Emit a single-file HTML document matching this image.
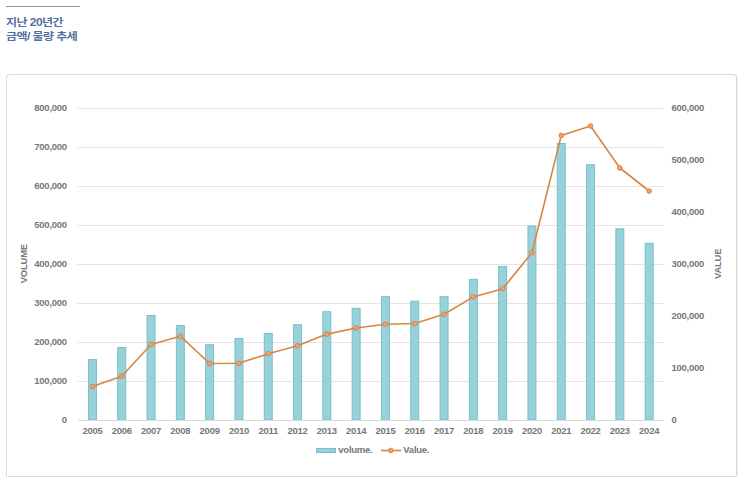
<!DOCTYPE html>
<html><head><meta charset="utf-8"><style>
html,body{margin:0;padding:0;background:#fff;}
body{width:743px;height:482px;position:relative;overflow:hidden;}
.hl{position:absolute;left:6px;top:6px;width:74px;height:1px;background:#8d97ad;}
.ttl{position:absolute;left:6px;top:15.5px;transform:scaleY(0.87);transform-origin:0 0;font-family:"Liberation Sans","Noto Sans CJK KR",sans-serif;font-weight:bold;font-size:12px;line-height:16px;color:#54709f;letter-spacing:-0.55px;}
.card{position:absolute;left:6px;top:74px;width:729px;height:401px;border:1px solid #d9dbe1;border-right-color:#d3d6e3;border-radius:4px 4px 2px 2px;box-shadow:1px 0 0 #eef0f8;background:#fff;}
svg{position:absolute;left:0;top:0;}
.g{stroke:#e4e4e4;stroke-width:1;}
.g2{stroke:#dadada;stroke-width:1;}
.t{font-family:"Liberation Sans",sans-serif;font-weight:bold;font-size:9.5px;letter-spacing:-0.25px;fill:#777777;}
.b{fill:#97d2da;stroke:#78c0c8;stroke-width:1;}
.ln{fill:none;stroke:#d88644;stroke-width:1.6;stroke-linejoin:round;}
.pt{fill:#f5a066;stroke:#d9844a;stroke-width:1;}
</style></head><body>
<div class="hl"></div>
<div class="ttl">지난 20년간<br>금액/ 물량 추세</div>
<div class="card"></div>
<svg width="743" height="482" viewBox="0 0 743 482">
<line x1="77.8" y1="108.5" x2="663.8" y2="108.5" class="g"/>
<line x1="77.8" y1="147.5" x2="663.8" y2="147.5" class="g"/>
<line x1="77.8" y1="186.5" x2="663.8" y2="186.5" class="g"/>
<line x1="77.8" y1="225.5" x2="663.8" y2="225.5" class="g"/>
<line x1="77.8" y1="264.5" x2="663.8" y2="264.5" class="g"/>
<line x1="77.8" y1="303.5" x2="663.8" y2="303.5" class="g"/>
<line x1="77.8" y1="342.5" x2="663.8" y2="342.5" class="g"/>
<line x1="77.8" y1="381.5" x2="663.8" y2="381.5" class="g"/>
<text x="66.9" y="111.0" class="t" text-anchor="end">800,000</text>
<text x="66.9" y="150.0" class="t" text-anchor="end">700,000</text>
<text x="66.9" y="189.0" class="t" text-anchor="end">600,000</text>
<text x="66.9" y="228.0" class="t" text-anchor="end">500,000</text>
<text x="66.9" y="267.0" class="t" text-anchor="end">400,000</text>
<text x="66.9" y="306.0" class="t" text-anchor="end">300,000</text>
<text x="66.9" y="345.0" class="t" text-anchor="end">200,000</text>
<text x="66.9" y="384.0" class="t" text-anchor="end">100,000</text>
<text x="66.9" y="423.0" class="t" text-anchor="end">0</text>
<text x="671.4" y="111.0" class="t">600,000</text>
<text x="671.4" y="163.0" class="t">500,000</text>
<text x="671.4" y="215.0" class="t">400,000</text>
<text x="671.4" y="267.0" class="t">300,000</text>
<text x="671.4" y="319.0" class="t">200,000</text>
<text x="671.4" y="371.0" class="t">100,000</text>
<text x="671.4" y="423.0" class="t">0</text>
<rect x="88.45" y="359.60" width="8.00" height="60.40" class="b"/>
<rect x="117.75" y="347.50" width="8.00" height="72.50" class="b"/>
<rect x="147.05" y="315.50" width="8.00" height="104.50" class="b"/>
<rect x="176.35" y="325.60" width="8.00" height="94.40" class="b"/>
<rect x="205.65" y="344.70" width="8.00" height="75.30" class="b"/>
<rect x="234.95" y="338.60" width="8.00" height="81.40" class="b"/>
<rect x="264.25" y="333.50" width="8.00" height="86.50" class="b"/>
<rect x="293.55" y="324.70" width="8.00" height="95.30" class="b"/>
<rect x="322.85" y="311.70" width="8.00" height="108.30" class="b"/>
<rect x="352.15" y="308.30" width="8.00" height="111.70" class="b"/>
<rect x="381.45" y="296.70" width="8.00" height="123.30" class="b"/>
<rect x="410.75" y="301.20" width="8.00" height="118.80" class="b"/>
<rect x="440.05" y="296.70" width="8.00" height="123.30" class="b"/>
<rect x="469.35" y="279.40" width="8.00" height="140.60" class="b"/>
<rect x="498.65" y="266.40" width="8.00" height="153.60" class="b"/>
<rect x="527.95" y="226.00" width="8.00" height="194.00" class="b"/>
<rect x="557.25" y="143.50" width="8.00" height="276.50" class="b"/>
<rect x="586.55" y="164.70" width="8.00" height="255.30" class="b"/>
<rect x="615.85" y="228.80" width="8.00" height="191.20" class="b"/>
<rect x="645.15" y="243.40" width="8.00" height="176.60" class="b"/>
<line x1="77.8" y1="420.5" x2="663.8" y2="420.5" class="g2"/>
<text x="92.45" y="433.6" class="t" text-anchor="middle">2005</text>
<text x="121.75" y="433.6" class="t" text-anchor="middle">2006</text>
<text x="151.05" y="433.6" class="t" text-anchor="middle">2007</text>
<text x="180.35" y="433.6" class="t" text-anchor="middle">2008</text>
<text x="209.65" y="433.6" class="t" text-anchor="middle">2009</text>
<text x="238.95" y="433.6" class="t" text-anchor="middle">2010</text>
<text x="268.25" y="433.6" class="t" text-anchor="middle">2011</text>
<text x="297.55" y="433.6" class="t" text-anchor="middle">2012</text>
<text x="326.85" y="433.6" class="t" text-anchor="middle">2013</text>
<text x="356.15" y="433.6" class="t" text-anchor="middle">2014</text>
<text x="385.45" y="433.6" class="t" text-anchor="middle">2015</text>
<text x="414.75" y="433.6" class="t" text-anchor="middle">2016</text>
<text x="444.05" y="433.6" class="t" text-anchor="middle">2017</text>
<text x="473.35" y="433.6" class="t" text-anchor="middle">2018</text>
<text x="502.65" y="433.6" class="t" text-anchor="middle">2019</text>
<text x="531.95" y="433.6" class="t" text-anchor="middle">2020</text>
<text x="561.25" y="433.6" class="t" text-anchor="middle">2021</text>
<text x="590.55" y="433.6" class="t" text-anchor="middle">2022</text>
<text x="619.85" y="433.6" class="t" text-anchor="middle">2023</text>
<text x="649.15" y="433.6" class="t" text-anchor="middle">2024</text>
<path d="M92.45,386.50 L121.75,376.30 L151.05,344.50 L180.35,336.20 L209.65,363.50 L238.95,363.30 L268.25,353.70 L297.55,345.70 L326.85,334.10 L356.15,328.00 L385.45,324.20 L414.75,323.50 L444.05,314.30 L473.35,296.90 L502.65,288.70 L531.95,252.70 L561.25,135.50 L590.55,126.00 L619.85,168.00 L649.15,191.00" class="ln"/>
<circle cx="92.45" cy="386.50" r="2.35" class="pt"/>
<circle cx="121.75" cy="376.30" r="2.35" class="pt"/>
<circle cx="151.05" cy="344.50" r="2.35" class="pt"/>
<circle cx="180.35" cy="336.20" r="2.35" class="pt"/>
<circle cx="209.65" cy="363.50" r="2.35" class="pt"/>
<circle cx="238.95" cy="363.30" r="2.35" class="pt"/>
<circle cx="268.25" cy="353.70" r="2.35" class="pt"/>
<circle cx="297.55" cy="345.70" r="2.35" class="pt"/>
<circle cx="326.85" cy="334.10" r="2.35" class="pt"/>
<circle cx="356.15" cy="328.00" r="2.35" class="pt"/>
<circle cx="385.45" cy="324.20" r="2.35" class="pt"/>
<circle cx="414.75" cy="323.50" r="2.35" class="pt"/>
<circle cx="444.05" cy="314.30" r="2.35" class="pt"/>
<circle cx="473.35" cy="296.90" r="2.35" class="pt"/>
<circle cx="502.65" cy="288.70" r="2.35" class="pt"/>
<circle cx="531.95" cy="252.70" r="2.35" class="pt"/>
<circle cx="561.25" cy="135.50" r="2.35" class="pt"/>
<circle cx="590.55" cy="126.00" r="2.35" class="pt"/>
<circle cx="619.85" cy="168.00" r="2.35" class="pt"/>
<circle cx="649.15" cy="191.00" r="2.35" class="pt"/>
<text class="t" transform="translate(27.2,263.7) rotate(-90)" text-anchor="middle">VOLUME</text>
<text class="t" transform="translate(721.4,263.8) rotate(-90)" text-anchor="middle">VALUE</text>
<rect x="316.5" y="448.5" width="19" height="4" class="b"/>
<text x="338.3" y="453.2" class="t">volume.</text>
<line x1="381" y1="450.5" x2="401.3" y2="450.5" class="ln"/>
<circle cx="390.8" cy="450.5" r="2.35" class="pt"/>
<text x="403.3" y="453.2" class="t">Value.</text>
</svg>
</body></html>
